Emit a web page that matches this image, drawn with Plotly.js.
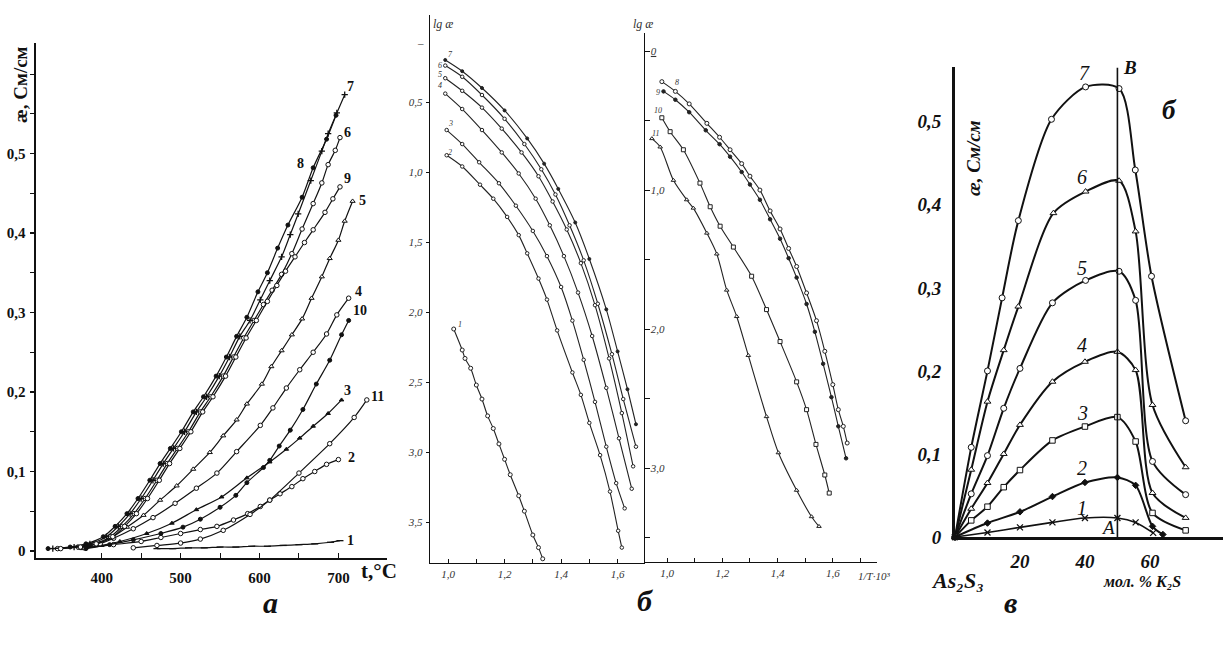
<!DOCTYPE html>
<html><head><meta charset="utf-8">
<script src="https://cdn.plot.ly/plotly-3.0.1.min.js"></script>
<style>html,body{margin:0;padding:0;background:#fff;}#chart{width:1224px;height:646px;}</style>
</head><body><div id="chart"></div>
<script>
// ===== Panel а: conductivity vs temperature (t, °C ; æ, См/см) =====
const a_t1 = [470, 490, 510, 530, 550, 570, 590, 610, 630, 650, 670, 690, 702];
const a_k1 = [0.003, 0.003, 0.004, 0.004, 0.005, 0.005, 0.006, 0.006, 0.007, 0.008, 0.009, 0.011, 0.013];
const a_t2 = [380, 415, 450, 475, 500, 525, 546, 567, 585, 601, 613, 626, 641, 655, 670, 685, 700];
const a_k2 = [0.004, 0.008, 0.012, 0.017, 0.022, 0.027, 0.031, 0.039, 0.047, 0.056, 0.064, 0.072, 0.081, 0.091, 0.100, 0.109, 0.115];
const a_t3 = [375, 400, 423, 457, 489, 520, 552, 584, 613, 634, 651, 668, 687, 704];
const a_k3 = [0.003, 0.007, 0.012, 0.022, 0.035, 0.052, 0.068, 0.092, 0.112, 0.128, 0.142, 0.157, 0.173, 0.190];
const a_t4 = [378, 398, 415, 440, 465, 493, 520, 546, 571, 601, 617, 634, 651, 668, 685, 698, 713];
const a_k4 = [0.004, 0.009, 0.016, 0.028, 0.042, 0.060, 0.079, 0.098, 0.125, 0.158, 0.180, 0.205, 0.228, 0.250, 0.273, 0.297, 0.318];
const a_t5 = [372, 392, 411, 432, 453, 474, 495, 516, 537, 554, 571, 584, 603, 615, 628, 641, 654, 666, 679, 689, 700, 708, 718];
const a_k5 = [0.004, 0.008, 0.016, 0.030, 0.045, 0.064, 0.082, 0.103, 0.124, 0.145, 0.165, 0.185, 0.210, 0.232, 0.252, 0.272, 0.292, 0.318, 0.345, 0.368, 0.391, 0.415, 0.440];
const a_t6 = [344, 370, 390, 411, 426, 441, 455, 470, 483, 496, 510, 525, 538, 554, 567, 580, 593, 605, 616, 628, 641, 654, 668, 679, 687, 696, 702];
const a_k6 = [0.003, 0.005, 0.009, 0.018, 0.031, 0.047, 0.066, 0.089, 0.110, 0.129, 0.150, 0.175, 0.194, 0.220, 0.244, 0.268, 0.290, 0.310, 0.328, 0.348, 0.374, 0.405, 0.437, 0.463, 0.486, 0.504, 0.520];
const a_t7 = [338, 365, 385, 406, 421, 436, 450, 465, 478, 491, 505, 520, 533, 549, 562, 575, 588, 601, 613, 628, 639, 649, 665, 679, 687, 698, 708];
const a_k7 = [0.003, 0.005, 0.009, 0.018, 0.031, 0.047, 0.066, 0.089, 0.110, 0.129, 0.150, 0.175, 0.194, 0.220, 0.244, 0.270, 0.290, 0.316, 0.340, 0.370, 0.398, 0.424, 0.466, 0.503, 0.525, 0.551, 0.574];
const a_t8 = [332, 360, 380, 402, 417, 432, 446, 461, 474, 487, 501, 516, 529, 545, 558, 571, 584, 598, 610, 623, 636, 654, 668, 685, 697];
const a_k8 = [0.003, 0.005, 0.009, 0.018, 0.031, 0.047, 0.066, 0.089, 0.110, 0.129, 0.150, 0.175, 0.194, 0.220, 0.244, 0.270, 0.294, 0.326, 0.350, 0.381, 0.410, 0.445, 0.482, 0.518, 0.548];
const a_t9 = [348, 373, 393, 414, 429, 444, 458, 473, 486, 499, 513, 528, 541, 557, 570, 583, 596, 610, 622, 633, 645, 657, 668, 683, 693, 702];
const a_k9 = [0.003, 0.005, 0.009, 0.018, 0.031, 0.047, 0.066, 0.089, 0.110, 0.129, 0.150, 0.175, 0.194, 0.220, 0.244, 0.268, 0.290, 0.314, 0.334, 0.352, 0.370, 0.388, 0.404, 0.426, 0.443, 0.458];
const a_t10 = [380, 410, 440, 475, 503, 525, 550, 570, 584, 605, 613, 625, 639, 655, 672, 689, 704, 713];
const a_k10 = [0.003, 0.008, 0.014, 0.022, 0.030, 0.040, 0.055, 0.070, 0.086, 0.105, 0.114, 0.132, 0.152, 0.178, 0.210, 0.240, 0.272, 0.290];
const a_t11 = [440, 470, 500, 525, 554, 588, 613, 650, 689, 720, 736];
const a_k11 = [0.004, 0.007, 0.010, 0.015, 0.026, 0.046, 0.064, 0.098, 0.135, 0.168, 0.190];
const a_xticks = [400, 500, 600, 700];
const a_xlabels = ['400', '500', '600', '700'];
const a_xminor = [450, 550, 650];
const a_yticks = [0, 0.1, 0.2, 0.3, 0.4, 0.5];
const a_ylabels = ['0', '0,1', '0,2', '0,3', '0,4', '0,5'];
const a_yminor = [0.05, 0.15, 0.25, 0.35, 0.45, 0.55, 0.6];

// ===== Panel б (left): lg æ vs 1/T·10³, curves 1–7 =====
const bL_X1 = [1.02, 1.05, 1.06, 1.08, 1.10, 1.12, 1.14, 1.16, 1.18, 1.20, 1.22, 1.25, 1.27, 1.30, 1.32, 1.335];
const bL_Y1 = [2.12, 2.27, 2.33, 2.40, 2.52, 2.62, 2.74, 2.83, 2.94, 3.05, 3.16, 3.31, 3.42, 3.59, 3.68, 3.76];
const bL_X2 = [0.995, 1.05, 1.113, 1.16, 1.209, 1.25, 1.28, 1.32, 1.35, 1.386, 1.44, 1.47, 1.50, 1.538, 1.573, 1.602, 1.615];
const bL_Y2 = [0.88, 0.96, 1.09, 1.19, 1.32, 1.45, 1.58, 1.76, 1.91, 2.13, 2.43, 2.59, 2.79, 3.02, 3.28, 3.56, 3.68];
const bL_X3 = [0.995, 1.05, 1.11, 1.18, 1.24, 1.30, 1.35, 1.40, 1.44, 1.48, 1.52, 1.56, 1.595, 1.625];
const bL_Y3 = [0.70, 0.80, 0.93, 1.08, 1.24, 1.42, 1.60, 1.82, 2.06, 2.34, 2.64, 2.96, 3.22, 3.40];
const bL_X4 = [0.99, 1.05, 1.12, 1.19, 1.25, 1.31, 1.36, 1.41, 1.46, 1.51, 1.56, 1.605, 1.65];
const bL_Y4 = [0.44, 0.55, 0.70, 0.86, 1.01, 1.19, 1.38, 1.60, 1.86, 2.17, 2.54, 2.90, 3.26];
const bL_X5 = [0.99, 1.05, 1.12, 1.19, 1.26, 1.32, 1.37, 1.42, 1.47, 1.52, 1.57, 1.615, 1.655];
const bL_Y5 = [0.33, 0.42, 0.54, 0.69, 0.86, 1.03, 1.21, 1.41, 1.65, 1.95, 2.33, 2.72, 3.10];
const bL_X6 = [0.99, 1.05, 1.12, 1.20, 1.27, 1.33, 1.38, 1.43, 1.48, 1.53, 1.58, 1.62, 1.665];
const bL_Y6 = [0.24, 0.32, 0.45, 0.62, 0.80, 0.98, 1.16, 1.38, 1.63, 1.94, 2.30, 2.62, 2.96];
const bL_X7 = [0.99, 1.05, 1.12, 1.20, 1.28, 1.34, 1.39, 1.45, 1.50, 1.56, 1.60, 1.635, 1.665];
const bL_Y7 = [0.20, 0.28, 0.40, 0.56, 0.76, 0.94, 1.12, 1.36, 1.62, 1.98, 2.28, 2.55, 2.80];
const bL_xticks = [1.0, 1.2, 1.4, 1.6];
const bL_xlabels = ['1,0', '1,2', '1,4', '1,6'];
const bL_xminor = [1.1, 1.3, 1.5];
const bL_yticks = [0.5, 1.0, 1.5, 2.0, 2.5, 3.0, 3.5];
const bL_ylabels = ['0,5', '1,0', '1,5', '2,0', '2,5', '3,0', '3,5'];

// ===== Panel б (right): curves 8–11 =====
const bR_X8 = [0.981, 1.03, 1.08, 1.144, 1.19, 1.228, 1.27, 1.30, 1.336, 1.373, 1.409, 1.44, 1.469, 1.505, 1.541, 1.571, 1.60, 1.62, 1.638, 1.652];
const bR_Y8 = [0.22, 0.29, 0.38, 0.52, 0.62, 0.71, 0.81, 0.90, 1.00, 1.15, 1.28, 1.42, 1.55, 1.74, 1.94, 2.16, 2.40, 2.58, 2.70, 2.82];
const bR_X9 = [0.987, 1.03, 1.08, 1.14, 1.19, 1.228, 1.27, 1.30, 1.336, 1.373, 1.409, 1.44, 1.469, 1.505, 1.535, 1.565, 1.595, 1.62, 1.648];
const bR_Y9 = [0.29, 0.35, 0.44, 0.57, 0.67, 0.76, 0.87, 0.96, 1.07, 1.21, 1.35, 1.49, 1.63, 1.82, 2.02, 2.25, 2.49, 2.70, 2.93];
const bR_X10 = [0.981, 1.011, 1.059, 1.119, 1.156, 1.192, 1.24, 1.306, 1.36, 1.409, 1.469, 1.505, 1.539, 1.571, 1.587];
const bR_Y10 = [0.48, 0.58, 0.71, 0.95, 1.12, 1.26, 1.41, 1.62, 1.86, 2.09, 2.38, 2.58, 2.83, 3.05, 3.18];
const bR_X11 = [0.945, 0.975, 1.023, 1.071, 1.095, 1.144, 1.18, 1.216, 1.252, 1.294, 1.36, 1.403, 1.469, 1.523, 1.55];
const bR_Y11 = [0.63, 0.69, 0.93, 1.07, 1.13, 1.31, 1.46, 1.72, 1.91, 2.19, 2.63, 2.89, 3.16, 3.35, 3.42];
const bR_xticks = [1.0, 1.2, 1.4, 1.6];
const bR_xlabels = ['1,0', '1,2', '1,4', '1,6'];
const bR_xminor = [1.1, 1.3, 1.5, 1.7];
const bR_yticks = [0, 1.0, 2.0, 3.0];
const bR_ylabels = ['<u>0</u>', '1,0', '2,0', '3,0'];
const bR_yminor = [0.5, 1.5, 2.5, 3.5];

// ===== Panel в: æ vs мол. % K2S =====
const c_x7 = [0, 5, 10, 14.5, 19.5, 29.7, 40.2, 50.5, 55.5, 60.5, 71];
const c_k7 = [0, 0.108, 0.200, 0.288, 0.381, 0.503, 0.542, 0.540, 0.442, 0.314, 0.140];
const c_x6 = [0, 5, 10, 15, 19.5, 30.3, 40.2, 50.5, 55.6, 60.8, 71];
const c_k6 = [0, 0.081, 0.163, 0.225, 0.2775, 0.390, 0.416, 0.429, 0.368, 0.159, 0.084];
const c_x5 = [0, 5, 10, 15, 20, 30, 40.2, 50.5, 55.6, 60.8, 71];
const c_k5 = [0, 0.052, 0.098, 0.155, 0.203, 0.282, 0.309, 0.320, 0.285, 0.091, 0.051];
const c_x4 = [0, 5, 10, 15, 20, 30, 40, 50, 55.6, 60.8, 71];
const c_k4 = [0, 0.034, 0.065, 0.100, 0.135, 0.187, 0.211, 0.223, 0.201, 0.053, 0.023];
const c_x3 = [0, 5, 10, 15, 20, 30, 40, 50, 55.6, 60.8, 71];
const c_k3 = [0, 0.020, 0.0365, 0.060, 0.0806, 0.1163, 0.133, 0.1444, 0.115, 0.029, 0.008];
const c_x2 = [0, 10, 20, 30, 40, 50, 55.6, 60.8, 64];
const c_k2 = [0, 0.0168, 0.0303, 0.0487, 0.0657, 0.0717, 0.0622, 0.0128, 0.003];
const c_x1 = [0, 10, 20, 30, 40, 50, 55.6, 61];
const c_k1 = [0, 0.0055, 0.0116, 0.0176, 0.0229, 0.0229, 0.0176, 0.005];
const c_xticks = [20, 40, 60];
const c_xlabels = ['20', '40', '60'];
const c_yticks = [0, 0.1, 0.2, 0.3, 0.4, 0.5];
const c_ylabels = ['0', '0,1', '0,2', '0,3', '0,4', '0,5'];
const compoundB = 50;      // K2S·As2S3 composition line (B)
const compoundBtop = 0.565;

// ===== Layout helpers =====
const W = 1224, H = 646;
const fx = p => p / W;
const fy = p => 1 - p / H;
const SERIF = 'Liberation Serif, DejaVu Serif, serif';
const INK = '#111';

function tr(x, y, ax, sym, size, filled, lw, col) {
  col = col || INK;
  const open = sym.indexOf('-open') >= 0;
  return {
    type: 'scatter', mode: 'lines+markers', x: x, y: y,
    xaxis: 'x' + ax, yaxis: 'y' + ax, cliponaxis: false, hoverinfo: 'skip',
    line: {color: col, width: lw || 1.3, shape: 'spline', smoothing: 0.8},
    marker: {symbol: sym, size: size, color: (filled || open) ? col : '#fff',
             line: {color: col, width: open ? 1.3 : 1}}
  };
}

const traces = [
  // panel а
  tr(a_t1, a_k1, '', 'line-ew-open', 5, false, 1.2),
  tr(a_t2, a_k2, '', 'circle', 4.5, false, 1.2),
  tr(a_t3, a_k3, '', 'triangle-up', 4, true, 1.2),
  tr(a_t4, a_k4, '', 'circle', 4.5, false, 1.2),
  tr(a_t5, a_k5, '', 'triangle-up', 4.5, false, 1.2),
  tr(a_t6, a_k6, '', 'circle', 4.5, false, 1.2),
  tr(a_t7, a_k7, '', 'cross-thin-open', 4.5, false, 1.2),
  tr(a_t8, a_k8, '', 'circle', 4, true, 1.2),
  tr(a_t9, a_k9, '', 'circle', 4.5, false, 1.2),
  tr(a_t10, a_k10, '', 'circle', 4, true, 1.2),
  tr(a_t11, a_k11, '', 'circle', 4.5, false, 1.2),
  // panel б left
  tr(bL_X1, bL_Y1, '2', 'circle', 4, false, 1.1, '#222'),
  tr(bL_X2, bL_Y2, '2', 'circle', 3.5, false, 1.1, '#222'),
  tr(bL_X3, bL_Y3, '2', 'circle', 3.5, false, 1.1, '#222'),
  tr(bL_X4, bL_Y4, '2', 'circle', 3.5, false, 1.1, '#222'),
  tr(bL_X5, bL_Y5, '2', 'circle', 3.5, false, 1.1, '#222'),
  tr(bL_X6, bL_Y6, '2', 'circle', 3.5, false, 1.1, '#222'),
  tr(bL_X7, bL_Y7, '2', 'circle', 3, true, 1.1, '#222'),
  // panel б right
  tr(bR_X8, bR_Y8, '3', 'circle', 4, false, 1.1, '#222'),
  tr(bR_X9, bR_Y9, '3', 'circle', 3.5, true, 1.1, '#222'),
  tr(bR_X10, bR_Y10, '3', 'square', 4, false, 1.1, '#222'),
  tr(bR_X11, bR_Y11, '3', 'triangle-up', 4, false, 1.1, '#222'),
  // panel в
  tr(c_x7, c_k7, '4', 'circle', 6, false, 2),
  tr(c_x6, c_k6, '4', 'triangle-up', 6, false, 2),
  tr(c_x5, c_k5, '4', 'circle', 6, false, 2),
  tr(c_x4, c_k4, '4', 'triangle-up', 6, false, 2),
  tr(c_x3, c_k3, '4', 'square', 5.5, false, 2),
  tr(c_x2, c_k2, '4', 'diamond', 5, true, 2),
  tr(c_x1, c_k1, '4', 'x-thin-open', 6, false, 1.6)
];

function axis(extra) {
  return Object.assign({
    showgrid: false, zeroline: false, showline: true, linecolor: INK, mirror: false,
    tickcolor: INK, tickmode: 'array', fixedrange: true
  }, extra);
}
function minor(vals, dir, len) {
  return {tickmode: 'array', tickvals: vals, ticks: dir, ticklen: len, tickcolor: INK, tickwidth: 1, showgrid: false};
}

const fA = {family: SERIF, size: 15, color: INK, weight: 'bold'};
const fB = {family: SERIF, size: 11, color: '#333', style: 'italic'};
const fC = {family: SERIF, size: 19, color: INK, weight: 'bold', style: 'italic'};

const layout = {
  width: W, height: H, margin: {l: 0, r: 0, t: 0, b: 0},
  paper_bgcolor: '#fff', plot_bgcolor: 'rgba(0,0,0,0)', showlegend: false,
  xaxis: axis({domain: [fx(36), fx(387)], range: [316.7, 761.6], anchor: 'y', linewidth: 1.6,
    tickvals: a_xticks, ticktext: a_xlabels, ticks: 'inside', ticklen: 5, tickwidth: 1.2,
    minor: minor(a_xminor, 'inside', 5), tickfont: fA, ticklabelstandoff: 5}),
  yaxis: axis({domain: [fy(558), fy(43)], range: [-0.0088, 0.639], anchor: 'x', linewidth: 1.6,
    tickvals: a_yticks, ticktext: a_ylabels, ticks: 'outside', ticklen: 4, tickwidth: 1.2,
    minor: minor(a_yminor, 'outside', 4), tickfont: fA, ticklabelstandoff: 2}),
  xaxis2: axis({domain: [fx(430), fx(645)], range: [0.936, 1.697], anchor: 'y2', linewidth: 1.2,
    tickvals: bL_xticks, ticktext: bL_xlabels, ticks: 'inside', ticklen: 4, tickwidth: 1,
    minor: minor(bL_xminor, 'inside', 4), tickfont: fB, ticklabelstandoff: 1}),
  yaxis2: axis({domain: [fy(563), fy(15)], range: [3.79, -0.121], anchor: 'x2', linewidth: 1.2,
    tickvals: bL_yticks, ticktext: bL_ylabels, ticks: 'outside', ticklen: 3, tickwidth: 1,
    tickfont: fB, ticklabelstandoff: 1}),
  xaxis3: axis({domain: [fx(645), fx(877)], range: [0.92, 1.76], anchor: 'y3', linewidth: 1.2,
    tickvals: bR_xticks, ticktext: bR_xlabels, ticks: 'inside', ticklen: 4, tickwidth: 1,
    minor: minor(bR_xminor, 'inside', 4), tickfont: fB, ticklabelstandoff: 1}),
  yaxis3: axis({domain: [fy(562), fy(33)], range: [3.676, -0.13], anchor: 'x3', linewidth: 1.2,
    tickvals: bR_yticks, ticktext: bR_ylabels, ticks: 'inside', ticklen: 5, tickwidth: 1,
    minor: minor(bR_yminor, 'inside', 5), ticklabelposition: 'inside', tickfont: fB}),
  xaxis4: axis({domain: [fx(955), fx(1223)], range: [0, 82.5], anchor: 'y4', linewidth: 3,
    tickvals: c_xticks, ticktext: c_xlabels, ticks: '', tickfont: fC, ticklabelstandoff: 5}),
  yaxis4: axis({domain: [fy(537), fy(67)], range: [0, 0.566], anchor: 'x4', linewidth: 3,
    tickvals: c_yticks, ticktext: c_ylabels, ticks: '', tickfont: fC, ticklabelstandoff: 7}),
  shapes: [
    {type: 'line', xref: 'x4', yref: 'y4', x0: compoundB, x1: compoundB, y0: 0, y1: compoundBtop,
     line: {color: INK, width: 1.6}}
  ],
  annotations: []
};

function A(text, x, y, xref, yref, font, extra) {
  layout.annotations.push(Object.assign({text: text, x: x, y: y, xref: xref, yref: yref,
    showarrow: false, font: font, xanchor: 'center', yanchor: 'middle'}, extra || {}));
}
const lblA = {family: SERIF, size: 14, color: INK, weight: 'bold'};
const lblB = {family: SERIF, size: 8, color: '#333', style: 'italic'};
const lblC = {family: SERIF, size: 20, color: INK, style: 'italic'};

// curve numbers, panel а
[['7', 715, 0.584], ['8', 652, 0.488], ['6', 712, 0.526], ['9', 711, 0.469], ['5', 730, 0.4415],
 ['4', 725, 0.326], ['10', 727, 0.303], ['3', 711, 0.2025], ['11', 749, 0.194], ['2', 717, 0.118],
 ['1', 715, 0.0138]].forEach(d => A(d[0], d[1], d[2], 'x', 'y', lblA));
// curve numbers, panel б left
[['7', 1.007, 0.164], ['6', 0.972, 0.236], ['5', 0.972, 0.307], ['4', 0.972, 0.379],
 ['3', 1.007, 0.65], ['2', 1.007, 0.857], ['1', 1.042, 2.086]].forEach(d => A(d[0], d[1], d[2], 'x2', 'y2', lblB));
// curve numbers, panel б right
[['8', 1.036, 0.223], ['9', 0.967, 0.295], ['10', 0.967, 0.424], ['11', 0.957, 0.59]]
  .forEach(d => A(d[0], d[1], d[2], 'x3', 'y3', lblB));
// curve numbers, panel в
[['7', 40, 0.559], ['6', 39.1, 0.434], ['5', 39.1, 0.324], ['4', 39.1, 0.2316],
 ['3', 39.1, 0.1496], ['2', 39.1, 0.0834], ['1', 39.1, 0.0353]].forEach(d => A(d[0], d[1], d[2], 'x4', 'y4', lblC));
A('B', 53.8, 0.565, 'x4', 'y4', {family: SERIF, size: 19, color: INK, style: 'italic', weight: 'bold'});
A('A', 47, 0.012, 'x4', 'y4', {family: SERIF, size: 19, color: INK, style: 'italic'});
A('б', 66, 0.514, 'x4', 'y4', {family: SERIF, size: 27, color: INK, style: 'italic', weight: 'bold'});

// axis titles and panel letters (paper coords)
A('æ, См/см', fx(21), fy(85), 'paper', 'paper', {family: SERIF, size: 19, color: INK, weight: 'bold'}, {textangle: -90});
A('t,°C', fx(379), fy(571), 'paper', 'paper', {family: SERIF, size: 21, color: INK, weight: 'bold'});
A('lg æ', fx(443), fy(24), 'paper', 'paper', {family: SERIF, size: 12, color: '#333', style: 'italic'});
A('–', fx(420), fy(43), 'paper', 'paper', {family: SERIF, size: 11, color: '#333'});
A('lg æ', fx(643), fy(24), 'paper', 'paper', {family: SERIF, size: 12, color: '#333', style: 'italic'});
A('1/T·10³', fx(874), fy(576), 'paper', 'paper', {family: SERIF, size: 11, color: '#333', style: 'italic'});
A('æ, См/см', fx(974), fy(158), 'paper', 'paper', {family: SERIF, size: 19, color: INK, style: 'italic', weight: 'bold'}, {textangle: -90});
A('As₂S₃', fx(957), fy(580), 'paper', 'paper', {family: SERIF, size: 22, color: INK, style: 'italic', weight: 'bold'});
A('мол. % K₂S', fx(1142), fy(581), 'paper', 'paper', {family: SERIF, size: 16, color: INK, style: 'italic', weight: 'bold'});
A('а', fx(270), fy(602), 'paper', 'paper', {family: SERIF, size: 30, color: INK, style: 'italic', weight: 'bold'});
A('б', fx(645), fy(600), 'paper', 'paper', {family: SERIF, size: 30, color: INK, style: 'italic', weight: 'bold'});
A('в', fx(1010), fy(602), 'paper', 'paper', {family: SERIF, size: 30, color: INK, style: 'italic', weight: 'bold'});

Plotly.newPlot('chart', traces, layout, {staticPlot: true, displayModeBar: false});
</script></body></html>
